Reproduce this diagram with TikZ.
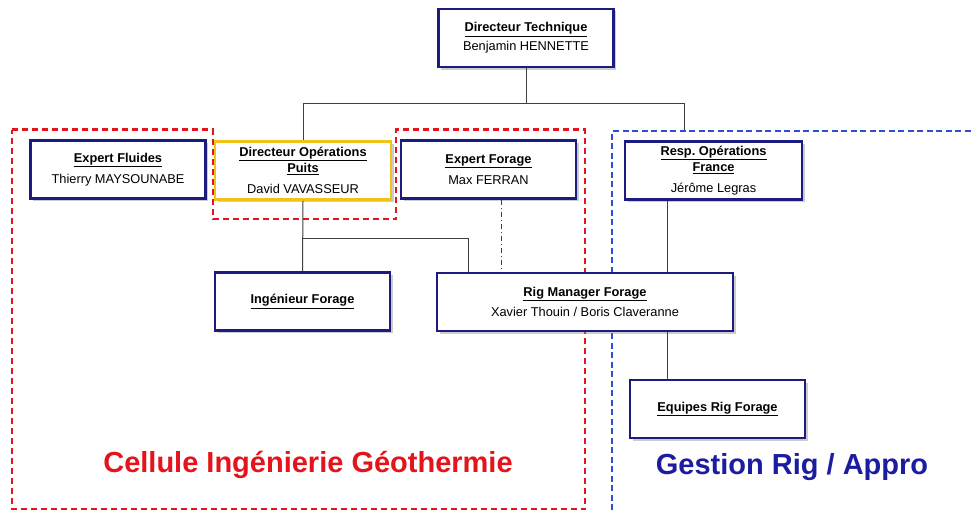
\documentclass[tikz,border=0pt]{standalone}
\usepackage{fontspec}
\setmainfont{Liberation Sans}
\usetikzlibrary{shadows}

\definecolor{navybox}{HTML}{1B1B80}
\definecolor{goldbox}{HTML}{F2C21B}
\definecolor{cellred}{HTML}{E3141B}
\definecolor{rigblue}{HTML}{2D4FD6}
\definecolor{titleblue}{HTML}{1C1CA0}

\newcommand{\fonction}[1]{\underline{\textbf{#1}}}

\begin{document}
\begin{tikzpicture}[
    x=1pt, y=-1pt,
    every node/.style={font=\fontsize{12.8}{16}\selectfont},
    post/.style={draw=navybox, line width=2.8pt, fill=white, align=center,
        minimum width=175pt, minimum height=58pt, inner sep=2pt,
        drop shadow={shadow xshift=2.5pt, shadow yshift=-2.5pt, opacity=0.4}},
    postgold/.style={post, draw=goldbox},
    link/.style={black!75, line width=1pt},
    cell/.style={cellred, line width=2.8pt, dash pattern=on 6pt off 4pt},
    rig/.style={rigblue, line width=2pt, dash pattern=on 6pt off 3.5pt},
    zone/.style={font=\fontsize{29}{32}\selectfont\bfseries},
]
\useasboundingbox (0,0) rectangle (971,511);

% Zones
\draw[cell] (12,129.5) -- (213,129.5) -- (213,219) -- (396,219) -- (396,129.5)
    -- (585,129.5) -- (585,509) -- (12,509) -- cycle;
\draw[rig] (980,131) -- (612,131) -- (612,520);

\node[zone, text=cellred] (lblcellule) at (308,465) {Cellule Ingénierie Géothermie};
\node[zone, text=titleblue] (lblgestion) at (792,467) {Gestion Rig / Appro};

% Postes
\node[post] (dirtech) at (526,38) {\fonction{Directeur Technique}\\[3pt]Benjamin HENNETTE};
\node[post] (fluides) at (118,169.5) {\fonction{Expert Fluides}\\[5pt]Thierry MAYSOUNABE};
\node[postgold, minimum width=176pt] (dirops) at (303,170.5)
    {\fonction{Directeur Opérations}\\\fonction{Puits}\\[5pt]David VAVASSEUR};
\node[post] (forage) at (488.5,169.5) {\fonction{Expert Forage}\\[5pt]Max FERRAN};
\node[post, minimum width=177pt] (respops) at (713.5,170.5)
    {\fonction{Resp.\ Opérations}\\\fonction{France}\\[5pt]Jérôme Legras};
\node[post] (ingenieur) at (302.5,301.5) {\fonction{Ingénieur Forage}};
\node[post, minimum width=296pt] (rigman) at (585,302)
    {\fonction{Rig Manager Forage}\\[4pt]Xavier Thouin / Boris Claveranne};
\node[post] (equipes) at (717.5,409) {\fonction{Equipes Rig Forage}};

% Liens
\coordinate (busR) at (684,103);
\coordinate (rigtop) at (684,130);
\coordinate (split) at (303,238);
\draw[link] (dirtech.south) -- (dirtech.south |- busR);
\draw[link] (dirops.north) |- (busR) -- (rigtop);
\draw[link] (dirops.south) -- (ingenieur.north);
\draw[link] (split) -| ([xshift=-117pt]rigman.north);
\draw[link, dash pattern=on 5pt off 3pt on 1pt off 3pt]
    ([xshift=12.5pt]forage.south) -- ([xshift=12.5pt]forage.south |- rigman.north);
\draw[link] ([xshift=-46pt]respops.south) -- ([xshift=-46pt]respops.south |- rigman.north);
\draw[link] ([xshift=-50pt]equipes.north) -- ([xshift=-50pt]equipes.north |- rigman.south);

\end{tikzpicture}
\end{document}
